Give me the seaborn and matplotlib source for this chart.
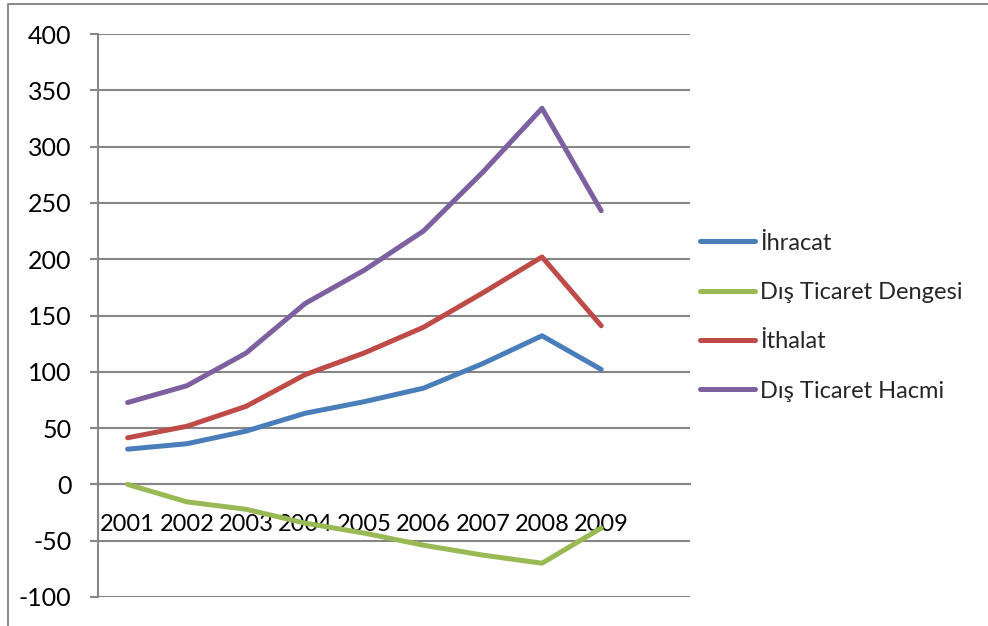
import matplotlib
matplotlib.use("Agg")
import matplotlib.pyplot as plt
from matplotlib.lines import Line2D
import seaborn as sns
import pandas as pd
import numpy as np

# Yearly foreign trade figures (billion USD)
years = ["2001", "2002", "2003", "2004", "2005", "2006", "2007", "2008", "2009"]
ihracat = [31.3, 36.1, 47.3, 63.2, 73.5, 85.5, 107.3, 132.0, 102.1]
denge = [0.0, -15.5, -22.1, -34.4, -43.3, -54.0, -62.8, -70.0, -38.8]
ithalat = [41.4, 51.6, 69.3, 97.5, 116.8, 139.6, 170.1, 202.0, 140.9]
hacim = [72.7, 87.6, 116.6, 160.7, 190.3, 225.1, 277.3, 334.0, 243.0]

series_names = ["İhracat", "Dış Ticaret Dengesi", "İthalat", "Dış Ticaret Hacmi"]
series_values = [ihracat, denge, ithalat, hacim]
colors = ["#4A7EBB", "#98B954", "#BE4B48", "#7D60A0"]

rows = []
for name, vals in zip(series_names, series_values):
    for i, v in enumerate(vals):
        rows.append({"pos": i, "year": years[i], "value": v, "seri": name})
df = pd.DataFrame(rows)

sns.set_theme(style="white")
plt.rcParams["font.family"] = ["Lato", "DejaVu Sans"]
plt.rcParams["axes.unicode_minus"] = False

fig = plt.figure(figsize=(9.88, 6.26), dpi=100)
ax = fig.add_axes([98 / 988, 1 - 597 / 626, 592 / 988, (597 - 34) / 626])

grid_c = "#868686"
sns.lineplot(data=df, x="pos", y="value", hue="seri", hue_order=series_names,
             palette=colors, linewidth=3.6, ax=ax, legend=False, sort=False,
             solid_joinstyle="round", solid_capstyle="round", zorder=3)

ax.set_ylim(-100, 400)
ax.set_yticks(np.arange(-100, 401, 50))
ax.yaxis.grid(True, color=grid_c, linewidth=1.5)
ax.set_axisbelow(True)

# ten category slots, the last one left empty
ax.set_xlim(-0.5, 9.5)
ax.set_xticks(range(len(years)))
ax.set_xticklabels(years)
ax.set_xticks(np.arange(-0.5, 9.6, 1.0), minor=True)
ax.tick_params(axis="x", which="major", length=0, pad=21, labelsize=17, colors="black")
ax.tick_params(axis="x", which="minor", length=6, width=1.5, color=grid_c, direction="out")
ax.tick_params(axis="y", length=6, width=1.5, color=grid_c, direction="out",
               pad=13, labelsize=18, labelcolor="black", left=True)

ax.spines["bottom"].set_position(("data", 0))
ax.spines["bottom"].set_color(grid_c)
ax.spines["bottom"].set_linewidth(1.5)
ax.spines["left"].set_color(grid_c)
ax.spines["left"].set_linewidth(1.5)
ax.spines["top"].set_visible(False)
ax.spines["right"].set_visible(False)
ax.set_xlabel("")
ax.set_ylabel("")

handles = [Line2D([0], [0], color=c, linewidth=3.6, solid_capstyle="round")
           for c in colors]
fig.legend(handles, series_names, loc="center left",
           bbox_to_anchor=(700 / 988, 1 - 317 / 626), frameon=False,
           fontsize=17, handlelength=2.35, handletextpad=0.2,
           labelspacing=1.2, borderpad=0, borderaxespad=0)

# chart border
border = Line2D([8 / 988, 8 / 988, 1.02], [-0.02, 1 - 4 / 626, 1 - 4 / 626],
                transform=fig.transFigure, color="#8c8c8c", linewidth=1.5)
fig.add_artist(border)

fig.savefig("out.png", dpi=100, facecolor="white")
